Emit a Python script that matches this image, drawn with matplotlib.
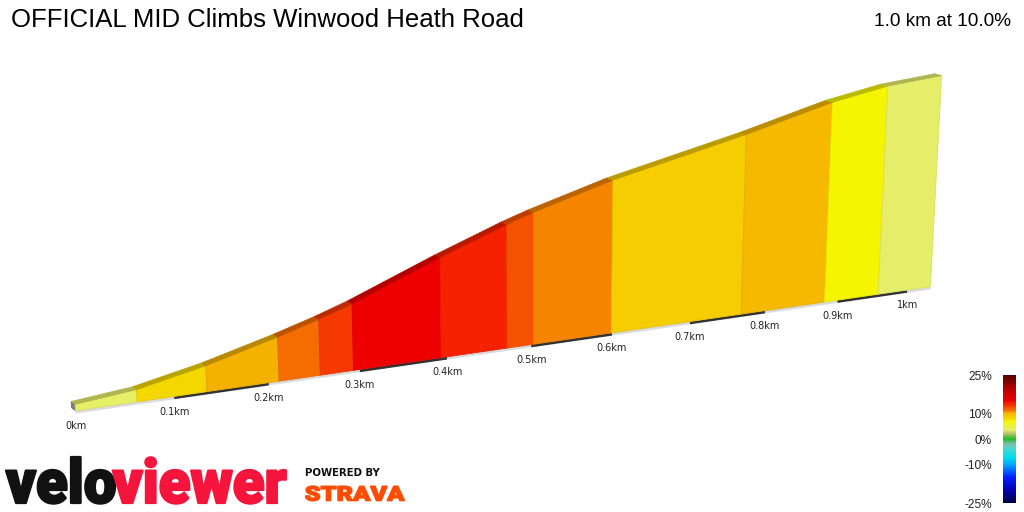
import matplotlib
matplotlib.use('Agg')
import matplotlib.pyplot as plt
import numpy as np
from matplotlib.colors import LinearSegmentedColormap, to_rgb
from matplotlib.patches import Polygon, PathPatch
from matplotlib.textpath import TextPath
from matplotlib.font_manager import FontProperties
from matplotlib.transforms import Affine2D

# data
title = 'OFFICIAL MID Climbs Winwood Heath Road'
summary = '1.0 km at 10.0%'

# segment boundaries along the climb (km) and gradient of each segment (%)
seg_km = [0.0, 0.062, 0.134, 0.211, 0.256, 0.293, 0.393, 0.471, 0.503,
          0.599, 0.768, 0.882, 0.958, 1.034]
seg_grade = [3.8, 7.9, 10.0, 11.3, 12.8, 15.0, 14.0, 12.4, 10.8, 8.6, 9.8, 7.0, 3.6]
start_elev = 146.0   # m
floor_elev = 143.5   # m, bottom of the block

km_ticks = [0.0, 0.1, 0.2, 0.3, 0.4, 0.5, 0.6, 0.7, 0.8, 0.9, 1.0]
km_labels = ['0km', '0.1km', '0.2km', '0.3km', '0.4km', '0.5km',
             '0.6km', '0.7km', '0.8km', '0.9km', '1km']

cbar_ticks = [25, 10, 0, -10, -25]
cbar_labels = ['25%', '10%', '0%', '-10%', '-25%']

# gradient colour scale (veloviewer style)
anchors = [(-25, '#00004a'), (-20, '#0000b0'), (-15, '#0020ff'), (-10, '#00a8ff'),
           (-7, '#00e0e8'), (-4, '#40d8d0'), (-2, '#80c0b0'), (0, '#22bb22'),
           (2, '#b0c068'), (3.5, '#e5ee6a'), (4, '#e8ef66'), (7, '#f5f500'),
           (7.9, '#f5d800'), (8.6, '#f5cf00'), (10, '#f5b700'), (10.8, '#f58a00'),
           (11.3, '#f56b00'), (12.4, '#f55500'), (12.8, '#f53a00'), (14, '#f52200'),
           (15, '#ee0000'), (19, '#c00000'), (25, '#5a0000')]
cmap = LinearSegmentedColormap.from_list(
    'grade', [((g + 25) / 50, c) for g, c in anchors])


def grade_color(g):
    return cmap((g + 25) / 50)


# simple perspective view of the climb block
def project(d, h, depth=0.0):
    s = 1 + 0.212 * d
    xb = 75.5 + 1008 * d / s
    yb = 410.7 - 146.3 * d / s
    hs = 2.52 * h / s
    x = xb + (xb - 530) * hs / (7800 - yb)
    y = yb - hs
    x -= depth * (4 + 3 * d)
    y -= depth * (3 - d)
    return x, y


seg_len = np.diff(seg_km) * 1000
elev = start_elev + np.concatenate([[0], np.cumsum(seg_len * np.array(seg_grade) / 100)])
h = elev - floor_elev

fig = plt.figure(figsize=(10.24, 5.12), dpi=100)
ax = fig.add_axes([0, 0, 1, 1])
ax.set_xlim(0, 1024)
ax.set_ylim(512, 0)
ax.axis('off')

# distance ribbon under the block
edges = km_ticks + [seg_km[-1]]
for i in range(len(edges) - 1):
    a, b = edges[i], edges[i + 1]
    xa, ya = project(a, 0)
    xb, yb = project(b, 0)
    col = '#333333' if i % 2 == 1 else '#dadada'
    ax.add_patch(Polygon([(xa, ya), (xb, yb), (xb, yb + 2.8), (xa, ya + 2.8)],
                         closed=True, fc=col, ec='none'))

# start cap
p0 = [project(0, 0), project(0, h[0]), project(0, h[0], 1), project(0, 0, 1)]
ax.add_patch(Polygon(p0, closed=True, fc='#7c7c7c', ec='#666666', lw=0.5))

for i in range(len(seg_grade)):
    d0, d1 = seg_km[i], seg_km[i + 1]
    col = np.array(to_rgb(grade_color(seg_grade[i])))
    front = [project(d0, 0), project(d1, 0), project(d1, h[i + 1]), project(d0, h[i])]
    ax.add_patch(Polygon(front, closed=True, fc=col, ec=col * 0.93, lw=0.6))
    top = [project(d0, h[i]), project(d1, h[i + 1]),
           project(d1, h[i + 1], 1), project(d0, h[i], 1)]
    ax.add_patch(Polygon(top, closed=True, fc=col * 0.76, ec=col * 0.76, lw=0.4))

for d, lab in zip(km_ticks, km_labels):
    x, y = project(d, 0)
    ax.text(x, y + 15.5, lab, fontsize=7, color='#222222', ha='center', va='center')

ax.text(11, 27.3, title, fontsize=18.5, family='Liberation Sans', va='baseline', ha='left')
ax.text(1011, 26, summary, fontsize=13.7, family='Liberation Sans',
        va='baseline', ha='right')

# veloviewer logo
fp_logo = FontProperties(family='Roboto', weight='black')
p_velo = TextPath((0, 0), 'velo', size=100, prop=fp_logo)
p_view = TextPath((0, 0), 'viewer', size=100, prop=fp_logo)
bv = p_velo.get_extents()
bw = p_view.get_extents()
gap = -4
sx = (286 - 6) / (bv.width + gap + bw.width)
sy = 46 / bv.ymax
t1 = Affine2D().translate(-bv.xmin, 0).scale(sx, -sy).translate(6, 503)
t2 = Affine2D().translate(-bw.xmin + bv.width + gap, 0).scale(sx, -sy).translate(6, 503)
ax.add_patch(PathPatch(t1.transform_path(p_velo), fc='#111111', ec='#111111',
                       lw=1.6, joinstyle='round'))
ax.add_patch(PathPatch(t2.transform_path(p_view), fc='#f5143c', ec='#f5143c',
                       lw=1.6, joinstyle='round'))

ax.text(305, 475.7, 'POWERED BY', fontsize=7.3, weight='bold', color='#111111',
        va='baseline', ha='left')
p_strava = TextPath((0, 0), 'STRAVA', size=100, prop=fp_logo)
bs = p_strava.get_extents()
ts = Affine2D().translate(-bs.xmin, 0).scale(99 / bs.width, -14.6 / bs.ymax).translate(305.5, 500.6)
ax.add_patch(PathPatch(ts.transform_path(p_strava), fc='#fc4c02', ec='#fc4c02',
                       lw=1.0, joinstyle='round'))

# colour bar
cax = fig.add_axes([1003 / 1024, 9 / 512, 13 / 1024, 128 / 512])
grad = np.linspace(25, -25, 256)[:, None]
cax.imshow(grad, cmap=cmap, vmin=-25, vmax=25, aspect='auto', extent=[0, 1, -25, 25])
cax.set_xticks([])
cax.set_yticks(cbar_ticks)
cax.set_yticklabels(cbar_labels, fontsize=8.6, family='Liberation Sans', color='#222222')
cax.tick_params(axis='y', length=0, pad=8)
for sp in cax.spines.values():
    sp.set_visible(False)

fig.savefig('out.png', dpi=100)
